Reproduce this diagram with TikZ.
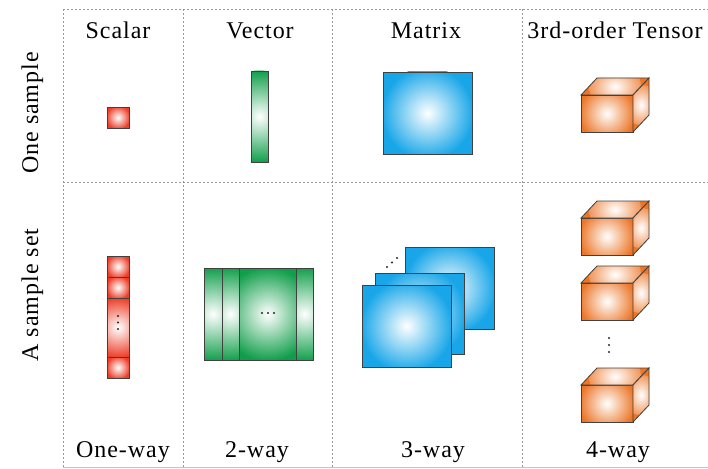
\documentclass[tikz,border=0pt]{standalone}
\usepackage{fontspec}
\setmainfont{Liberation Serif}[LetterSpace=4]
\usepackage{tikz}

\definecolor{scalarred}{RGB}{236,62,40}
\definecolor{vectorgreen}{RGB}{16,158,74}
\definecolor{matrixblue}{RGB}{24,166,232}
\definecolor{tensororange}{RGB}{236,118,40}

\tikzset{
    gridline/.style={gray!80, line width=0.6pt, dash pattern=on 2pt off 2pt},
    tile/.style 2 args={draw=black!75, line width=0.8pt, fill=#1,
        path picture={\shade[inner color=white, outer color=#1]
            (path picture bounding box.center) circle (#2pt);}},
    label/.style={font=\fontsize{24}{28}\selectfont, anchor=base, inner sep=0pt},
    dot/.style={fill=black!85}
}

\begin{document}
\begin{tikzpicture}[x=1pt, y=-1pt]
    \useasboundingbox (0,0) rectangle (708,468);

    % frame
    \draw[gridline] (63,9) -- (708,9);
    \draw[gridline] (63,182) -- (708,182);
    \draw[gridline] (63,9) -- (63,467);
    \foreach \x in {183,332,522}
        \draw[gridline] (\x,9) -- (\x,467);
    \draw[gray!45, line width=0.8pt] (63,467) -- (708,467);

    % titles
    \node[label] (scalar) at (118,39) {Scalar};
    \node[label] (vector) at (260,39) {Vector};
    \node[label] (matrix) at (426,39) {Matrix};
    \node[label] (tensor) at (615,39) {3rd-order Tensor};
    \node[label, rotate=90] (one) at (38,113) {One sample};
    \node[label, rotate=90] (set) at (38,295) {A sample set};
    \node[label] (way1) at (123,457) {One-way};
    \node[label] (way2) at (257,457) {2-way};
    \node[label] (way3) at (433,457) {3-way};
    \node[label] (way4) at (618,457) {4-way};

    % one sample
    \draw[tile={scalarred}{12}] (107,107) rectangle (129,128);
    \draw[tile={vectorgreen}{46}] (251,71) rectangle (268,162);
    \draw[tile={matrixblue}{46}] (383,72) rectangle (472,154);

    % a sample set
    \foreach \a/\b/\r in {256/277/12, 277/298/12, 298/357/30, 357/378/12}
        \draw[tile={scalarred}{\r}] (107,\a) rectangle (129,\b);
    \foreach \y in {316,322.5,329}
        \fill[dot] (118,\y) circle (1.2pt);

    \foreach \a/\b in {204/222, 222/239, 239/296, 296/313}
        \draw[tile={vectorgreen}{47}] (\a,268) rectangle (\b,360);
    \foreach \x in {262,268,274}
        \fill[dot] (\x,313) circle (1.2pt);

    \draw[tile={matrixblue}{46}] (405,247) rectangle (494,329);
    \draw[tile={matrixblue}{46}] (375,273) rectangle (464,354);
    \draw[tile={matrixblue}{46}] (362,285) rectangle (451,367);
    \foreach \x/\y in {387/267, 392/262.5, 397/258}
        \fill[dot] (\x,\y) circle (1.2pt);

    % cubes
    \foreach \y in {95,218,283,385} {
        \draw[tile={tensororange}{28}] (581,\y) rectangle (633,\y+37);
        \draw[tile={tensororange}{26}] (581,\y) -- (597,\y-17) -- (649,\y-17) -- (633,\y) -- cycle;
        \draw[tile={tensororange}{20}] (633,\y) -- (649,\y-17) -- (649,\y+20) -- (633,\y+37) -- cycle;
    }
    \foreach \y in {338,345,352}
        \fill[dot] (609,\y) circle (1.2pt);
\end{tikzpicture}
\end{document}
